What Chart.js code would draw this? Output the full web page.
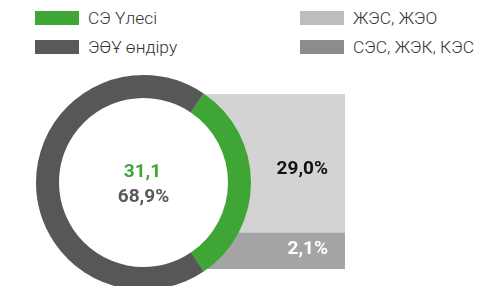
<!DOCTYPE html>
<html>
<head>
<meta charset="utf-8">
<script src="https://cdn.jsdelivr.net/npm/chart.js@4"></script>
<style>
  body { margin: 0; width: 492px; height: 286px; overflow: hidden; position: relative; background: #fff; font-family: Roboto, "Noto Sans", sans-serif; }
  .legend-item { position: absolute; display: flex; align-items: center; font-size: 17.4px; font-weight: 300; color: #333; }
  .legend-item span.box { display: inline-block; width: 44px; height: 14px; margin-right: 9px; }
  #barWrap { position: absolute; left: 143px; top: 94px; }
  #donutWrap { position: absolute; left: 36px; top: 75px; }
</style>
</head>
<body>
<div id="legend"></div>
<div id="barWrap"><canvas id="barChart" width="202" height="175"></canvas></div>
<div id="donutWrap"><canvas id="donutChart" width="215" height="215"></canvas></div>
<script>
// doughnut: share of renewables vs the rest of production
const donutLabels = ["СЭ Үлесі", "ЭӨҰ өндіру"];
const donutValues = [31.1, 68.9];

// breakdown of the renewable share
const splitLabels = ["СЭС, ЖЭК, КЭС", "ЖЭС, ЖЭО"];
const splitValues = [2.1, 29.0];

const green = "#3fa535";
const darkGray = "#575757";

const legendItems = [
  { text: donutLabels[0], color: green, left: 35, top: 11 },
  { text: donutLabels[1], color: "#595959", left: 35, top: 40 },
  { text: splitLabels[1], color: "#bdbdbd", left: 300, top: 11 },
  { text: splitLabels[0], color: "#8c8c8c", left: 300, top: 40 },
];

const legend = document.getElementById("legend");
legendItems.forEach((item) => {
  const div = document.createElement("div");
  div.className = "legend-item";
  div.style.left = item.left + "px";
  div.style.top = item.top - 3 + "px";
  const box = document.createElement("span");
  box.className = "box";
  box.style.background = item.color;
  div.append(box, document.createTextNode(item.text));
  legend.append(div);
});

const fmt = (v) => v.toFixed(1).replace(".", ",");

// labels on the stacked bars, right aligned
const barLabels = {
  id: "barLabels",
  afterDatasetsDraw(chart) {
    const ctx = chart.ctx;
    const styles = [
      { color: "#ffffff", dy: -2 },
      { color: "#111111", dy: 6 },
    ];
    ctx.save();
    ctx.font = "bold 19px Roboto";
    ctx.textAlign = "right";
    ctx.textBaseline = "middle";
    chart.data.datasets.forEach((ds, i) => {
      const bar = chart.getDatasetMeta(i).data[0];
      const mid = (bar.y + bar.base) / 2;
      ctx.fillStyle = styles[i].color;
      ctx.fillText(fmt(ds.data[0]) + "%", chart.chartArea.right - 17, mid + styles[i].dy);
    });
    ctx.restore();
  },
};

new Chart(document.getElementById("barChart"), {
  type: "bar",
  data: {
    labels: [""],
    datasets: [
      { label: splitLabels[0], data: [splitValues[0]], backgroundColor: "#a4a4a4" },
      { label: splitLabels[1], data: [splitValues[1]], backgroundColor: "#d3d3d3" },
    ],
  },
  options: {
    responsive: false,
    animation: false,
    events: [],
    barPercentage: 1,
    categoryPercentage: 1,
    layout: { padding: 0 },
    plugins: { legend: { display: false }, tooltip: { enabled: false } },
    scales: {
      x: { stacked: true, display: false },
      y: {
        stacked: true,
        display: false,
        type: "logarithmic",
        min: 1.045,
        max: splitValues[0] + splitValues[1],
      },
    },
  },
  plugins: [barLabels],
});

// white hole and the two numbers in the middle
const centerText = {
  id: "centerText",
  beforeDatasetsDraw(chart) {
    const arc = chart.getDatasetMeta(0).data[0];
    const ctx = chart.ctx;
    ctx.save();
    ctx.fillStyle = "#fff";
    ctx.beginPath();
    ctx.arc(arc.x, arc.y, arc.innerRadius + 1, 0, Math.PI * 2);
    ctx.fill();
    ctx.restore();
  },
  afterDraw(chart) {
    const arc = chart.getDatasetMeta(0).data[0];
    const ctx = chart.ctx;
    ctx.save();
    ctx.font = "bold 19px Roboto";
    ctx.textAlign = "center";
    ctx.textBaseline = "alphabetic";
    ctx.fillStyle = green;
    ctx.fillText(fmt(donutValues[0]), arc.x - 1, arc.y - 5.5);
    ctx.fillStyle = "#5a5a5a";
    ctx.fillText(fmt(donutValues[1]) + "%", arc.x, arc.y + 19.5);
    ctx.restore();
  },
};

new Chart(document.getElementById("donutChart"), {
  type: "doughnut",
  data: {
    labels: donutLabels,
    datasets: [
      {
        data: donutValues,
        backgroundColor: [green, darkGray],
        borderWidth: 0,
        hoverOffset: 0,
      },
    ],
  },
  options: {
    responsive: false,
    animation: false,
    events: [],
    cutout: "78.6%",
    rotation: 34,
    layout: { padding: 0 },
    plugins: { legend: { display: false }, tooltip: { enabled: false } },
  },
  plugins: [centerText],
});
</script>
</body>
</html>
